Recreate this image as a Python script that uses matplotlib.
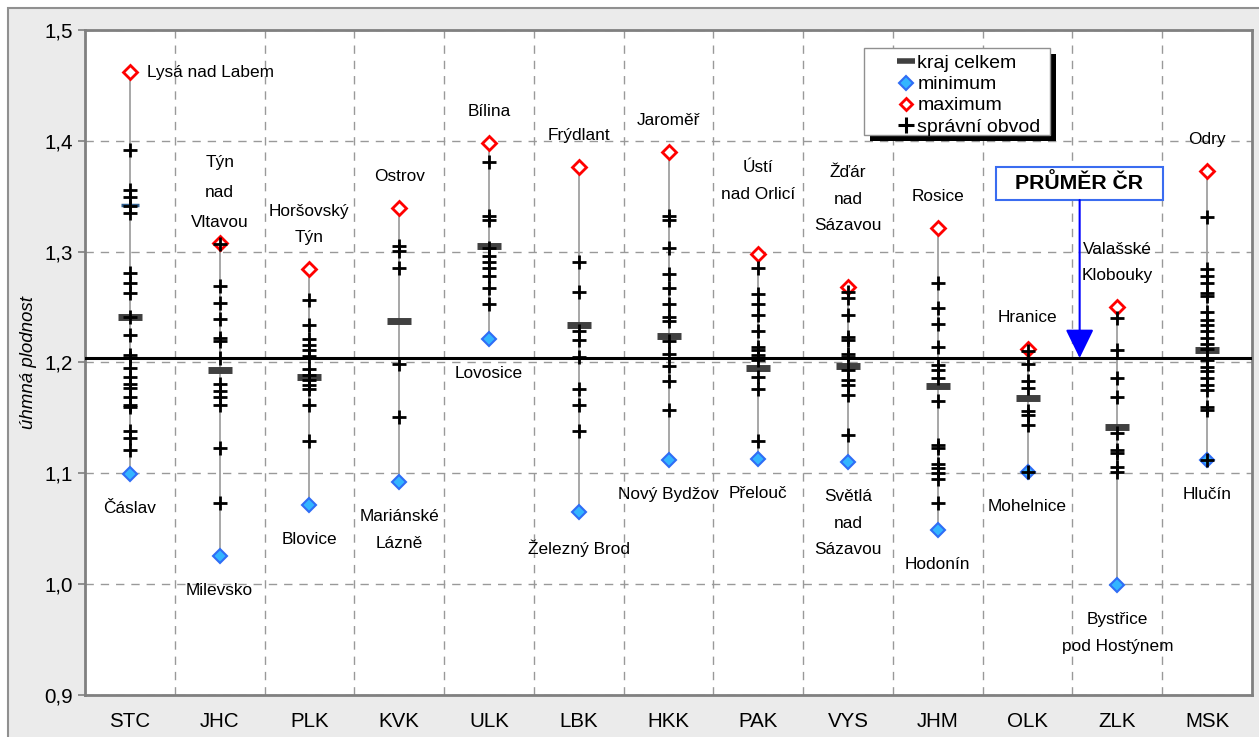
import matplotlib
matplotlib.use("Agg")
import matplotlib.pyplot as plt
from matplotlib.lines import Line2D
from matplotlib.patches import Rectangle
from matplotlib.ticker import FuncFormatter

plt.rcParams['font.family'] = ['Liberation Sans', 'DejaVu Sans']

regions = ['STC', 'JHC', 'PLK', 'KVK', 'ULK', 'LBK', 'HKK', 'PAK', 'VYS', 'JHM', 'OLK', 'ZLK', 'MSK']
kraj = [1.241, 1.193, 1.187, 1.237, 1.305, 1.234, 1.224, 1.195, 1.197, 1.179, 1.168, 1.142, 1.211]
min_val = [1.099, 1.025, 1.071, 1.092, 1.221, 1.065, 1.112, 1.113, 1.110, 1.049, 1.101, 0.999, 1.112]
max_val = [1.462, 1.308, 1.284, 1.339, 1.398, 1.376, 1.390, 1.298, 1.268, 1.321, 1.212, 1.250, 1.373]
min_names = ['Čáslav', 'Milevsko', 'Blovice', 'Mariánské\nLázně', 'Lovosice', 'Železný Brod',
             'Nový Bydžov', 'Přelouč', 'Světlá\nnad\nSázavou', 'Hodonín', 'Mohelnice',
             'Bystřice\npod Hostýnem', 'Hlučín']
max_names = ['Lysá nad Labem', 'Týn\nnad\nVltavou', 'Horšovský\nTýn', 'Ostrov', 'Bílina', 'Frýdlant',
             'Jaroměř', 'Ústí\nnad Orlicí', 'Žďár\nnad\nSázavou', 'Rosice', 'Hranice',
             'Valašské\nKlobouky', 'Odry']
obvody = [
    [1.392, 1.356, 1.349, 1.341, 1.335, 1.281, 1.272, 1.263, 1.241, 1.225, 1.207, 1.204, 1.195,
     1.187, 1.181, 1.177, 1.169, 1.162, 1.160, 1.138, 1.132, 1.121],
    [1.307, 1.269, 1.254, 1.239, 1.222, 1.219, 1.204, 1.181, 1.174, 1.169, 1.162, 1.123, 1.073],
    [1.256, 1.234, 1.221, 1.216, 1.211, 1.206, 1.194, 1.189, 1.184, 1.180, 1.176, 1.162, 1.129],
    [1.305, 1.301, 1.285, 1.199, 1.151],
    [1.381, 1.332, 1.329, 1.303, 1.296, 1.291, 1.285, 1.278, 1.267, 1.253],
    [1.291, 1.264, 1.228, 1.220, 1.205, 1.176, 1.162, 1.138],
    [1.332, 1.329, 1.303, 1.280, 1.267, 1.253, 1.241, 1.237, 1.219, 1.208, 1.197, 1.183, 1.157],
    [1.285, 1.262, 1.253, 1.243, 1.228, 1.214, 1.211, 1.207, 1.202, 1.187, 1.176, 1.129],
    [1.264, 1.258, 1.243, 1.223, 1.220, 1.208, 1.205, 1.193, 1.184, 1.180, 1.171, 1.135],
    [1.272, 1.249, 1.235, 1.214, 1.198, 1.193, 1.186, 1.165, 1.126, 1.123, 1.108, 1.105,
     1.100, 1.095, 1.073],
    [1.210, 1.199, 1.183, 1.177, 1.156, 1.153, 1.144, 1.101],
    [1.240, 1.211, 1.186, 1.169, 1.136, 1.121, 1.118, 1.106, 1.101],
    [1.331, 1.284, 1.278, 1.272, 1.263, 1.260, 1.246, 1.238, 1.234, 1.228, 1.222, 1.217, 1.212,
     1.202, 1.196, 1.192, 1.186, 1.180, 1.175, 1.160, 1.157, 1.112],
]
praha = 1.342
prumer_cr = 1.204

fig = plt.figure(figsize=(12.59, 7.37), dpi=100, facecolor='white')
fig.patches.append(Rectangle((8 / 1259, -0.1), 1.2, 1.1 - 8 / 737, transform=fig.transFigure,
                             facecolor='#ebebeb', edgecolor='#909090', lw=1.5, zorder=-1))
ax = fig.add_axes([85 / 1259, 1 - 695 / 737, 1167 / 1259, 665 / 737])
ax.set_facecolor('white')

x = list(range(len(regions)))

# min-max lines
for i in x:
    ax.plot([i, i], [min_val[i], max_val[i]], color='#a0a0a0', lw=1.3, zorder=2)

ax.axhline(prumer_cr, color='black', lw=2.2, zorder=3)

ax.plot(x, min_val, 'D', ms=7.5, mfc='#33b5ff', mec='#2f6df5', mew=1.5, ls='none', zorder=4)
ax.plot(x, max_val, 'D', ms=7, mfc='white', mec='#ff0000', mew=2, ls='none', zorder=4)
ax.plot(x, kraj, '_', ms=17, mew=5, color='#404040', ls='none', zorder=5)
ax.plot([0], [praha], '_', ms=13, mew=2.5, color='#2f5f8f', ls='none', zorder=5)

for i in x:
    ax.plot([i] * len(obvody[i]), obvody[i], '+', ms=10, mew=2, color='black', ls='none', zorder=6)

# labels of extremes
lab_fs = 12.4
max_offsets = {1: 13, 7: 52, 8: 54}
for i in x:
    if i == 0:
        ax.annotate(max_names[i], (i, max_val[i]), xytext=(17, 0), textcoords='offset pixels',
                    ha='left', va='center', fontsize=lab_fs, zorder=7)
    else:
        ax.annotate(max_names[i], (i, max_val[i]), xytext=(0, max_offsets.get(i, 24)),
                    textcoords='offset pixels', ha='center', va='bottom', fontsize=lab_fs,
                    linespacing=2.25 if i == 1 else 1.95, zorder=7)
    ax.annotate(min_names[i], (i, min_val[i]), xytext=(0, -27), textcoords='offset pixels',
                ha='center', va='top', fontsize=lab_fs, linespacing=1.95, zorder=7)

# PRŮMĚR ČR annotation
arrow_x = 10.58
ax.add_patch(Rectangle((9.648, 1.3466), 1.86, 0.0298, facecolor='white', edgecolor='#3a6cf0',
                       lw=1.5, zorder=8))
ax.text(10.578, 1.3615, 'PRŮMĚR ČR', ha='center', va='center', fontsize=15.3, fontweight='bold',
        zorder=9)
ax.annotate('', xy=(arrow_x, prumer_cr), xytext=(arrow_x, 1.3466),
            arrowprops=dict(arrowstyle='-|>,head_length=0.45,head_width=0.22', color='#0000ff',
                            lw=1.5, mutation_scale=40, shrinkA=0, shrinkB=0), zorder=8)

ax.set_xlim(-0.5, len(regions) - 0.5)
ax.set_ylim(0.9, 1.5)
ax.set_xticks(x)
ax.set_xticklabels(regions, fontsize=14.8)
ax.set_xticks([i + 0.5 for i in x[:-1]], minor=True)
ax.set_yticks([0.9, 1.0, 1.1, 1.2, 1.3, 1.4, 1.5])
ax.yaxis.set_major_formatter(FuncFormatter(lambda v, p: f'{v:.1f}'.replace('.', ',')))
ax.tick_params(axis='y', labelsize=14.8, length=5, color='#808080', width=1.2, pad=4)
ax.tick_params(axis='x', which='both', length=0, pad=12)
ax.grid(True, axis='y', which='major', ls=(0, (6, 5)), color='#999999', lw=1)
ax.grid(True, axis='x', which='minor', ls=(0, (6, 5)), color='#999999', lw=1)
ax.set_axisbelow(True)
for s in ax.spines.values():
    s.set_color('#808080')
    s.set_linewidth(2)

ax.set_ylabel('úhmná plodnost', fontsize=13.5, fontstyle='italic', labelpad=5)

# legend box with shadow
ax.add_patch(Rectangle((0.6675 + 0.005, 0.8421 - 0.009), 0.1594, 0.1308, transform=ax.transAxes,
                       facecolor='black', edgecolor='none', zorder=9))
ax.add_patch(Rectangle((0.6675, 0.8421), 0.1594, 0.1308, transform=ax.transAxes,
                       facecolor='white', edgecolor='#909090', lw=1, zorder=9.5))
handles = [Line2D([], [], marker='_', ms=13, mew=4, color='#404040', ls='none'),
           Line2D([], [], marker='D', ms=7, mfc='#33b5ff', mec='#2f6df5', mew=1.5, ls='none'),
           Line2D([], [], marker='D', ms=6.5, mfc='white', mec='#ff0000', mew=2, ls='none'),
           Line2D([], [], marker='+', ms=12, mew=2.2, color='black', ls='none')]
leg = ax.legend(handles, ['kraj celkem', 'minimum', 'maximum', 'správní obvod'],
                loc='upper left', bbox_to_anchor=(0.6967, 0.963), fontsize=14, frameon=False,
                handlelength=0.8, handletextpad=0.2, labelspacing=0.18, borderpad=0,
                borderaxespad=0)
leg.set_zorder(10)

fig.savefig('out.png', dpi=100)
